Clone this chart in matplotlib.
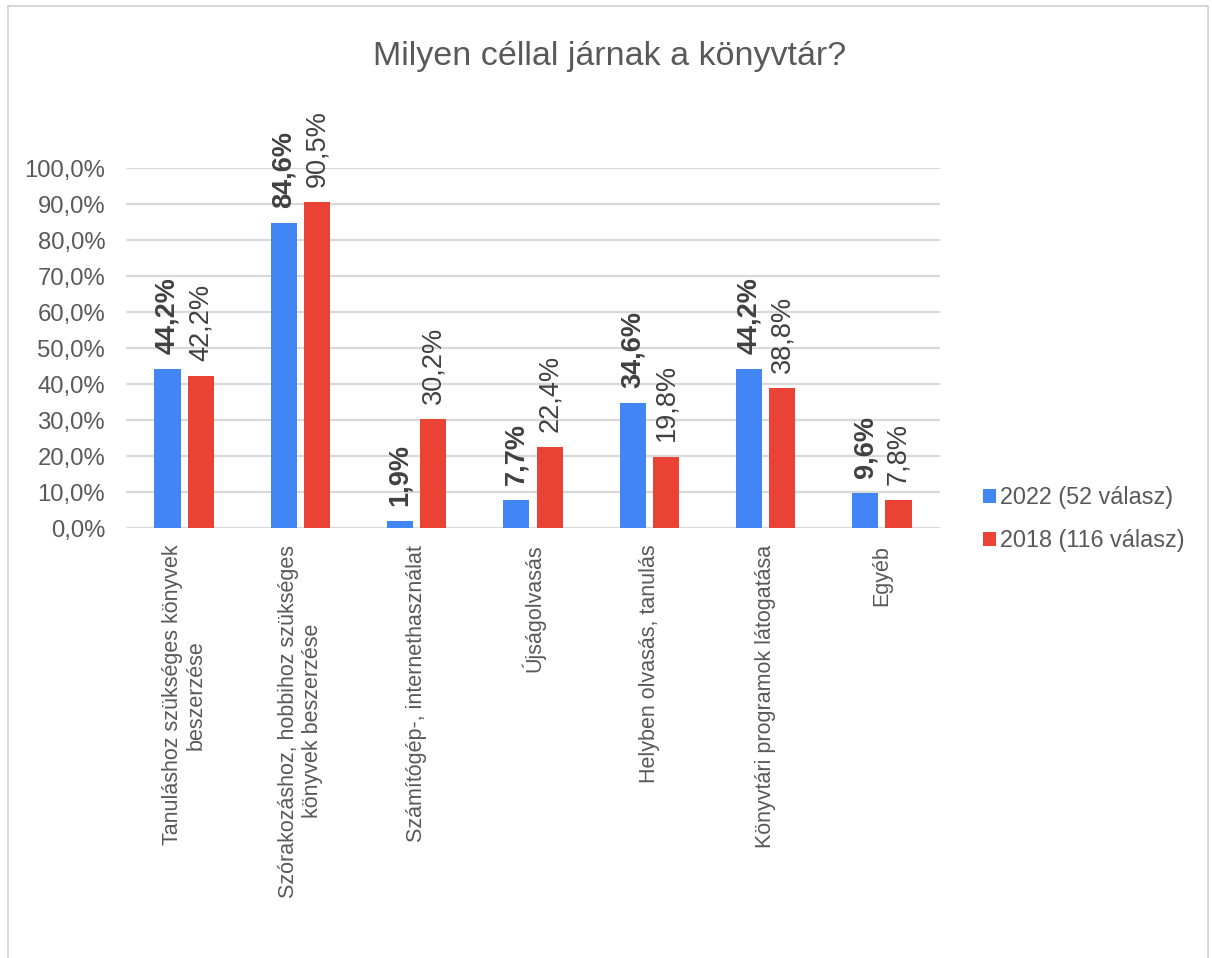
import numpy as np
import matplotlib.pyplot as plt
from matplotlib.patches import Rectangle

# adatok
kategoriak = [
    "Tanuláshoz szükséges könyvek\nbeszerzése",
    "Szórakozáshoz, hobbihoz szükséges\nkönyvek beszerzése",
    "Számítógép-, internethasználat",
    "Újságolvasás",
    "Helyben olvasás, tanulás",
    "Könyvtári programok látogatása",
    "Egyéb",
]
ertekek_2022 = [44.2, 84.6, 1.9, 7.7, 34.6, 44.2, 9.6]
ertekek_2018 = [42.2, 90.5, 30.2, 22.4, 19.8, 38.8, 7.8]
sorozat_nevek = ["2022 (52 válasz)", "2018 (116 válasz)"]

kek = "#4285F4"
piros = "#EA4335"
szurke = "#595959"

plt.rcParams['font.family'] = ['Liberation Sans', 'DejaVu Sans']

fig = plt.figure(figsize=(12.12, 9.58), dpi=100)
ax = fig.add_axes([126 / 1212, 1 - 528 / 958, 814 / 1212, 360 / 958])

x = np.arange(len(kategoriak))
w = 0.224
b1 = ax.bar(x - 0.143, ertekek_2022, w, color=kek, label=sorozat_nevek[0], zorder=3)
b2 = ax.bar(x + 0.143, ertekek_2018, w, color=piros, label=sorozat_nevek[1], zorder=3)

# adatcímkék
for xi, v in zip(x, ertekek_2022):
    ax.annotate(f"{v:.1f}%".replace(".", ","), (xi - 0.143, v), xytext=(0, 11),
                textcoords="offset points", rotation=90, ha="center", va="bottom",
                fontsize=19.5, fontweight="bold", color="#404040", annotation_clip=False)
for xi, v in zip(x, ertekek_2018):
    ax.annotate(f"{v:.1f}%".replace(".", ","), (xi + 0.143, v), xytext=(0, 11),
                textcoords="offset points", rotation=90, ha="center", va="bottom",
                fontsize=19.5, color="#404040", annotation_clip=False)

ax.set_xlim(-0.5, len(kategoriak) - 0.5)
ax.set_ylim(0, 100)
ax.set_yticks(np.arange(0, 101, 10))
ax.set_yticklabels([f"{t:.1f}%".replace(".", ",") for t in np.arange(0, 101, 10)],
                   fontsize=17.2, color=szurke)
ax.set_xticks(x)
ax.set_xticklabels(kategoriak, rotation=90, ha="center", va="top",
                   multialignment="center", fontsize=15.5, color=szurke)
ax.tick_params(axis="both", length=0)
ax.tick_params(axis="y", pad=15)
ax.tick_params(axis="x", pad=12)
ax.grid(axis="y", color="#D9D9D9", linewidth=1.6, zorder=0)
for s in ax.spines.values():
    s.set_visible(False)

fig.text(0.503, 1 - 57 / 958, "Milyen céllal járnak a könyvtár?", ha="center", va="center",
         fontsize=24.5, color=szurke)

fig.legend(handles=[b1, b2], loc="center left", bbox_to_anchor=(962 / 1212, 1 - 519 / 958),
           frameon=False, fontsize=16.8, labelcolor=szurke, handlelength=0.55,
           handleheight=0.55, handletextpad=0.2, labelspacing=0.85)

# keret
fig.patches.append(Rectangle((8 / 1212, -0.1), 1200 / 1212, 1.1 - 6 / 958,
                             transform=fig.transFigure, fill=False,
                             edgecolor="#D0D0D0", linewidth=1.2))

fig.savefig("out.png", dpi=100)
